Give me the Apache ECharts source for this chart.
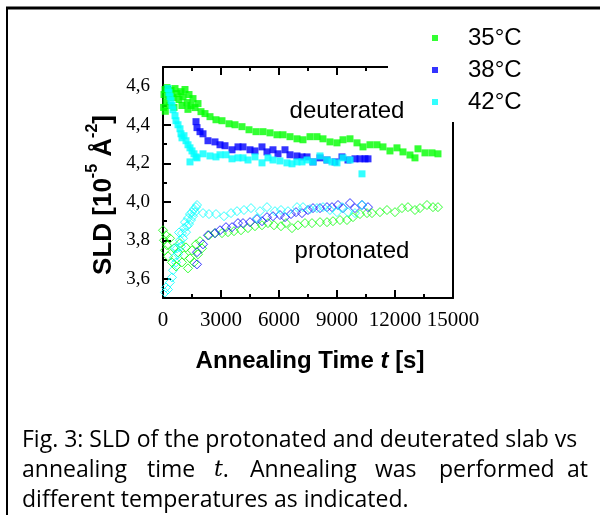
<!DOCTYPE html>
<html>
<head>
<meta charset="utf-8">
<script src="https://cdn.jsdelivr.net/npm/echarts@6/dist/echarts.min.js"></script>
<style>
  html, body { margin: 0; padding: 0; background: #fff; }
  #chart { width: 604px; height: 515px; }
</style>
</head>
<body>
<div id="chart"></div>
<script>
// tick labels
var xTicks = [0, 3000, 6000, 9000, 12000, 15000];
var yMajor = [3.6, 3.8, 4.0, 4.2, 4.4, 4.6];
var yMinor = [3.5, 3.7, 3.9, 4.1, 4.3, 4.5];
var temps = ['35°C', '38°C', '42°C'];

// deuterated slab, [t in s, SLD]
var deut35 = [
  [30, 4.49], [52, 4.557], [103, 4.583], [120, 4.47], [155, 4.52], [207, 4.593], [310, 4.55],
  [360, 4.5], [414, 4.578], [517, 4.541], [570, 4.49], [621, 4.588], [724, 4.562], [828, 4.531],
  [931, 4.572], [980, 4.5], [1034, 4.546], [1138, 4.583], [1241, 4.515], [1290, 4.48], [1345, 4.557],
  [1448, 4.5], [1552, 4.536], [1655, 4.489], [1810, 4.51], [1965, 4.468], [2172, 4.458], [2431, 4.442],
  [2741, 4.426], [3051, 4.421], [3414, 4.405], [3724, 4.4], [4086, 4.39], [4448, 4.374], [4810, 4.364],
  [5172, 4.364], [5534, 4.358], [5896, 4.348], [6206, 4.348], [6569, 4.338], [6931, 4.327], [7241, 4.322],
  [7603, 4.338], [7965, 4.338], [8275, 4.327], [8637, 4.311], [8999, 4.306], [9310, 4.322], [9672, 4.327],
  [10034, 4.306], [10344, 4.285], [10706, 4.296], [11068, 4.296], [11378, 4.285], [11740, 4.264],
  [12102, 4.28], [12413, 4.259], [12775, 4.243], [13033, 4.228], [13189, 4.275], [13550, 4.254],
  [13913, 4.254], [14223, 4.249]
];
var deut38 = [
  [1707, 4.416], [1759, 4.385], [1914, 4.364], [2069, 4.353], [2327, 4.317], [2689, 4.311], [2948, 4.296],
  [3207, 4.291], [3569, 4.27], [3879, 4.285], [4138, 4.285], [4500, 4.27], [4758, 4.264], [5120, 4.285],
  [5379, 4.259], [5689, 4.27], [5948, 4.249], [6310, 4.27], [6569, 4.244], [6931, 4.238], [7189, 4.233],
  [7448, 4.233], [7758, 4.207], [8120, 4.228], [8482, 4.217], [8896, 4.207], [9258, 4.233], [9568, 4.217],
  [9930, 4.223], [10189, 4.223], [10448, 4.223], [10603, 4.223]
];
var deut42 = [
  [259, 4.588], [310, 4.567], [362, 4.546], [414, 4.525], [465, 4.5], [517, 4.478], [621, 4.447],
  [672, 4.421], [776, 4.4], [879, 4.379], [931, 4.353], [983, 4.332], [1086, 4.343], [1190, 4.317],
  [1293, 4.296], [1396, 4.28], [1396, 4.207], [1500, 4.264], [1603, 4.249], [1707, 4.233], [1759, 4.228],
  [2069, 4.249], [2431, 4.238], [2741, 4.233], [2948, 4.244], [3258, 4.244], [3569, 4.223], [3879, 4.228],
  [4138, 4.228], [4396, 4.217], [4758, 4.233], [5120, 4.202], [5431, 4.228], [5689, 4.217], [6051, 4.212],
  [6413, 4.202], [6672, 4.197], [6931, 4.207], [7189, 4.207], [7448, 4.217], [7758, 4.207], [8120, 4.238],
  [8482, 4.217], [8741, 4.207], [8999, 4.202], [9310, 4.228], [9672, 4.217], [10292, 4.145]
];

// protonated slab, [t in s, SLD]
var prot35 = [
  [0, 3.852], [52, 3.8], [103, 3.748], [155, 3.826], [207, 3.774], [259, 3.717], [362, 3.81], [465, 3.685],
  [569, 3.758], [672, 3.664], [776, 3.737], [879, 3.785], [983, 3.685], [1086, 3.722], [1190, 3.763],
  [1293, 3.654], [1396, 3.706], [1500, 3.748], [1603, 3.685], [1707, 3.779], [1810, 3.727], [1914, 3.795],
  [2017, 3.758], [2379, 3.826], [2689, 3.837], [3051, 3.837], [3362, 3.842], [3672, 3.847], [4034, 3.852],
  [4396, 3.863], [4758, 3.873], [5120, 3.878], [5431, 3.889], [5741, 3.878], [6103, 3.873], [6362, 3.889],
  [6672, 3.863], [6982, 3.878], [7344, 3.889], [7706, 3.889], [8120, 3.894], [8482, 3.894], [8792, 3.899],
  [9154, 3.905], [9516, 3.905], [9827, 3.92], [10189, 3.936], [10551, 3.941], [10810, 3.941], [11223, 3.946],
  [11585, 3.957], [11999, 3.946], [12361, 3.967], [12671, 3.972], [13033, 3.957], [13292, 3.967],
  [13654, 3.983], [13964, 3.972], [14223, 3.972]
];
var prot38 = [
  [1759, 3.675], [1759, 3.738], [2069, 3.779], [2327, 3.826], [2689, 3.837], [2948, 3.852], [3258, 3.868],
  [3569, 3.868], [3879, 3.889], [4138, 3.889], [4500, 3.894], [4862, 3.91], [5120, 3.899], [5379, 3.92],
  [5689, 3.925], [6051, 3.931], [6310, 3.92], [6620, 3.936], [6879, 3.946], [7189, 3.941], [7500, 3.957],
  [7758, 3.967], [8120, 3.967], [8482, 3.972], [8741, 3.972], [9051, 3.983], [9310, 3.967], [9672, 3.993],
  [9930, 3.967], [10292, 3.983], [10603, 3.972]
];
var prot42 = [
  [103, 3.529], [155, 3.555], [259, 3.544], [362, 3.581], [465, 3.607], [517, 3.644], [569, 3.711],
  [620, 3.76], [672, 3.685], [724, 3.758], [776, 3.727], [830, 3.84], [879, 3.8], [931, 3.768], [983, 3.837],
  [1034, 3.81], [1086, 3.863], [1138, 3.894], [1190, 3.842], [1241, 3.873], [1293, 3.915], [1345, 3.884],
  [1396, 3.936], [1448, 3.905], [1500, 3.946], [1552, 3.925], [1603, 3.962], [1655, 3.946], [1707, 3.972],
  [1759, 3.983], [2069, 3.941], [2379, 3.936], [2741, 3.936], [3155, 3.925], [3517, 3.941], [3827, 3.951],
  [4189, 3.957], [4551, 3.967], [4862, 3.915], [5017, 3.951], [5379, 3.972], [5793, 3.951], [6103, 3.957],
  [6465, 3.951], [6931, 3.972], [7241, 3.972], [7603, 3.962], [7965, 3.967], [8275, 3.972], [8637, 3.957],
  [8999, 3.946], [9258, 3.972], [9568, 3.946], [9930, 3.941], [10292, 3.983]
];

var colors = ['#00ff00', '#0000ff', '#00ffff'];
var deutData = [deut35, deut38, deut42];
var protData = [prot35, prot38, prot42];

var chart = echarts.init(document.getElementById('chart'));

var axisBlack = { color: '#000', width: 2 };
var serif = '"Liberation Serif", "Times New Roman", serif';
var sans = '"Liberation Sans", Arial, sans-serif';
var capFont = '"Open Sans"';

// filled squares first so the legend takes their look
var series = [];
temps.forEach(function (name, i) {
  series.push({
    name: name,
    type: 'scatter',
    data: deutData[i],
    symbol: 'rect',
    symbolSize: 7,
    itemStyle: { color: colors[i] },
    emphasis: { disabled: true },
    z: 2
  });
});
temps.forEach(function (name, i) {
  series.push({
    name: name,
    type: 'scatter',
    data: protData[i],
    symbol: 'diamond',
    symbolSize: 9,
    itemStyle: { color: 'rgba(0,0,0,0)', borderColor: colors[i], borderWidth: 1 },
    emphasis: { disabled: true },
    z: 2
  });
});

function capText(x, y, txt, align) {
  return {
    type: 'text', x: x, y: y, z: 5,
    style: { text: txt, fontFamily: capFont, fontSize: 23, fill: '#000', align: align || 'left', verticalAlign: 'middle' }
  };
}

var option = {
  animation: false,
  backgroundColor: '#fff',
  color: colors,
  grid: { left: 163, right: 151, top: 67, bottom: 217 },
  legend: {
    orient: 'vertical',
    left: 427,
    top: 19,
    itemWidth: 6,
    itemHeight: 6,
    itemGap: 4,
    selectedMode: false,
    data: temps.map(function (t, i) {
      return { name: t, icon: 'rect', itemStyle: { color: colors[i], borderWidth: 0 } };
    }),
    textStyle: { fontFamily: sans, fontSize: 24, color: '#000', lineHeight: 28, padding: [0, 0, 0, 25] }
  },
  xAxis: [{
    type: 'value',
    min: xTicks[0],
    max: xTicks[xTicks.length - 1],
    interval: 3000,
    axisLine: { show: true, onZero: false, lineStyle: axisBlack },
    axisTick: { show: true, inside: true, length: 8, lineStyle: axisBlack },
    minorTick: { show: true, splitNumber: 2, length: 4, lineStyle: axisBlack },
    axisLabel: {
      fontFamily: serif, fontSize: 21, color: '#000', margin: 12,
      formatter: function (v) { return String(v); }
    },
    splitLine: { show: false }
  }, {
    type: 'value',
    position: 'top',
    min: xTicks[0],
    max: xTicks[xTicks.length - 1],
    interval: 3000,
    axisLine: { show: true, onZero: false, lineStyle: axisBlack },
    axisTick: { show: true, inside: true, length: 8, lineStyle: axisBlack },
    minorTick: { show: true, splitNumber: 2, length: 4, lineStyle: axisBlack },
    axisLabel: { show: false },
    splitLine: { show: false }
  }],
  yAxis: [{
    type: 'value',
    min: 3.5,
    max: 4.7,
    axisLine: { show: true, onZero: false, lineStyle: axisBlack },
    axisTick: { show: true, inside: true, length: 8, customValues: yMajor, lineStyle: axisBlack },
    axisLabel: {
      customValues: yMajor,
      fontFamily: serif, fontSize: 19, color: '#000', margin: 13,
      formatter: function (v) { return v.toFixed(1).replace('.', ','); }
    },
    splitLine: { show: false }
  }, {
    type: 'value',
    min: 3.5,
    max: 4.7,
    position: 'left',
    axisLine: { show: false },
    axisTick: { show: true, inside: true, length: 4, customValues: yMinor, lineStyle: axisBlack },
    axisLabel: { show: false },
    splitLine: { show: false }
  }, {
    type: 'value',
    min: 3.5,
    max: 4.7,
    position: 'right',
    axisLine: { show: true, onZero: false, lineStyle: axisBlack },
    axisTick: { show: false },
    axisLabel: { show: false },
    splitLine: { show: false }
  }],
  series: series,
  graphic: [
    // page frame
    { type: 'line', shape: { x1: 6, y1: 8, x2: 600, y2: 8 }, style: { stroke: '#000', lineWidth: 3 } },
    { type: 'line', shape: { x1: 7, y1: 8, x2: 7, y2: 515 }, style: { stroke: '#000', lineWidth: 2 } },
    // legend box hides the frame corner
    { type: 'rect', z: 3, shape: { x: 388, y: 12, width: 110, height: 110 }, style: { fill: '#fff' } },
    { type: 'text', z: 5, x: 347, y: 111, style: { text: 'deuterated', fontFamily: sans, fontSize: 24, fill: '#000', align: 'center', verticalAlign: 'middle' } },
    { type: 'text', z: 5, x: 352, y: 251, style: { text: 'protonated', fontFamily: sans, fontSize: 24, fill: '#000', align: 'center', verticalAlign: 'middle' } },
    {
      type: 'text', z: 5, x: 101, y: 195, rotation: Math.PI / 2,
      style: {
        text: '{b|SLD [10}{s|-5}{b| Å}{s|-2}{b|]}',
        align: 'center', verticalAlign: 'middle',
        rich: {
          b: { fontFamily: sans, fontSize: 26, fontWeight: 'bold', fill: '#000', lineHeight: 32, verticalAlign: 'bottom' },
          s: { fontFamily: sans, fontSize: 16, fontWeight: 'bold', fill: '#000', lineHeight: 32, verticalAlign: 'top' }
        }
      }
    },
    {
      type: 'text', z: 5, x: 310, y: 361,
      style: {
        text: '{b|Annealing Time }{i|t}{b| [s]}',
        align: 'center', verticalAlign: 'middle',
        rich: {
          b: { fontFamily: sans, fontSize: 24, fontWeight: 'bold', fill: '#000' },
          i: { fontFamily: sans, fontSize: 24, fontWeight: 'bold', fontStyle: 'italic', fill: '#000' }
        }
      }
    },
    // caption, second line spread out like justified text
    capText(22, 440, 'Fig. 3: SLD of the protonated and deuterated slab vs'),
    capText(22, 470, 'annealing'),
    capText(147, 470, 'time'),
    {
      type: 'text', x: 214, y: 470, z: 5,
      style: {
        text: '{i|t}.', fontFamily: capFont, fontSize: 23, fill: '#000', verticalAlign: 'middle',
        rich: { i: { fontFamily: '"DejaVu Serif"', fontStyle: 'italic', fontSize: 22, fill: '#000' } }
      }
    },
    capText(250, 470, 'Annealing'),
    capText(375, 470, 'was'),
    capText(439, 470, 'performed'),
    capText(588, 470, 'at', 'right'),
    capText(22, 500, 'different temperatures as indicated.')
  ]
};

chart.setOption(option);
</script>
</body>
</html>
